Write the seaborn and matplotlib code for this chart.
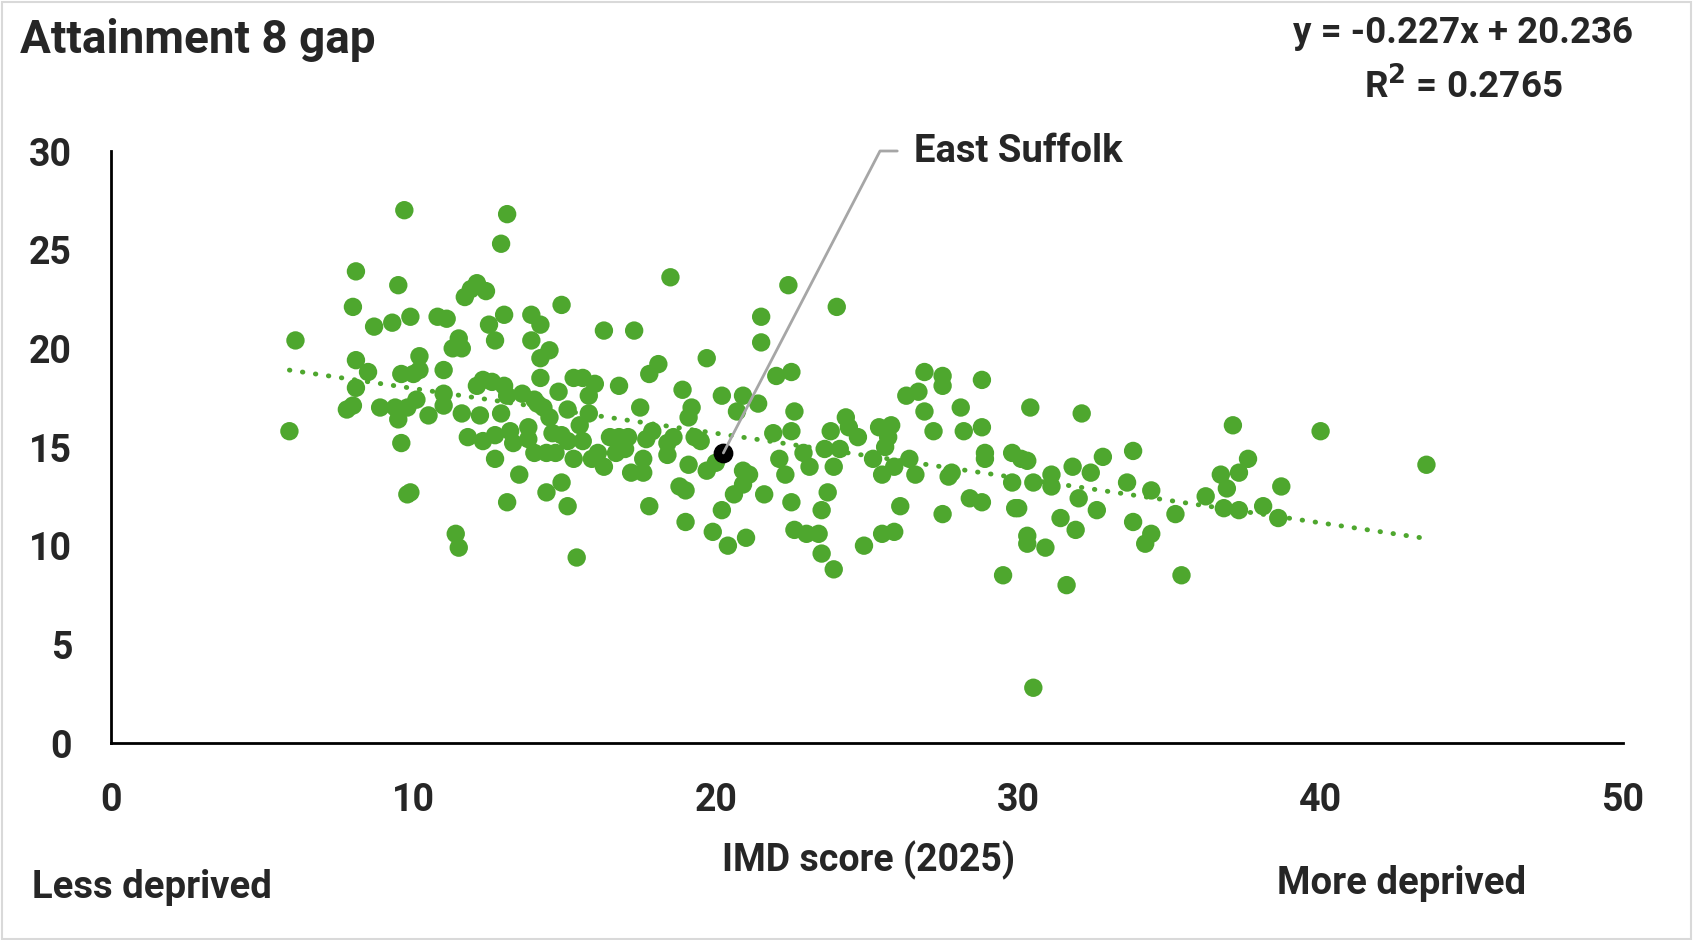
import numpy as np
import pandas as pd
import matplotlib.pyplot as plt
import seaborn as sns
from matplotlib.patches import Rectangle

# IMD score (2025) and Attainment 8 gap
imd = [5.9, 6.1, 7.8, 8.0, 8.0, 8.1, 8.1, 8.1, 8.5, 8.7, 8.9, 9.3, 9.4, 9.5, 9.5, 9.6,
       9.6, 9.7, 9.8, 9.9, 9.9, 9.8, 10.0, 10.1, 10.2, 10.2, 10.5, 10.8, 11.1, 11.0,
       11.0, 11.0, 11.3, 11.4, 11.5, 11.5, 11.6, 11.6, 11.7, 11.8, 11.9, 12.1, 12.4,
       12.1, 12.2, 12.3, 12.3, 12.5, 12.7, 12.6, 12.7, 12.7, 12.9, 12.9, 13.0, 13.0,
       13.1, 13.1, 13.1, 13.2, 13.3, 13.5, 13.6, 13.8, 13.8, 13.9, 13.9, 14.0, 14.0,
       14.2, 14.2, 14.2, 14.1, 14.3, 14.4, 14.4, 14.5, 14.5, 14.6, 14.7, 14.8, 14.9,
       14.9, 14.9, 15.1, 15.1, 15.1, 15.3, 15.3, 15.4, 15.5, 15.6, 15.6, 15.8, 15.8,
       15.9, 16.0, 16.1, 16.3, 16.3, 16.5, 16.7, 16.8, 16.8, 17.0, 17.1, 17.2, 17.3,
       17.5, 17.6, 17.6, 17.7, 17.8, 17.8, 17.9, 18.1, 18.4, 18.5, 18.4, 18.6, 18.8,
       18.9, 19.0, 19.0, 19.1, 19.1, 19.2, 19.3, 19.5, 19.7, 19.7, 19.9, 20.0, 20.2,
       20.2, 20.4, 20.6, 20.7, 20.9, 20.9, 20.9, 21.0, 21.1, 21.4, 21.5, 21.5, 21.6,
       21.9, 22.0, 22.1, 22.3, 22.4, 22.5, 22.5, 22.6, 22.5, 22.6, 22.9, 23.0, 23.1,
       23.4, 23.5, 23.5, 23.6, 23.7, 23.8, 23.9, 23.9, 24.0, 24.1, 24.3, 24.4, 24.7,
       24.9, 25.2, 25.4, 25.5, 25.5, 25.6, 25.7, 25.8, 25.9, 25.9, 26.1, 26.3, 26.4,
       26.6, 26.7, 26.9, 26.9, 27.2, 27.5, 27.5, 27.5, 27.7, 27.8, 28.1, 28.2, 28.4,
       28.8, 28.8, 28.8, 28.9, 28.9, 29.5, 29.8, 29.8, 29.9, 30.0, 30.1, 30.3, 30.3,
       30.4, 30.3, 30.5, 30.5, 30.9, 31.1, 31.1, 31.4, 31.6, 31.8, 31.9, 32.0, 32.1,
       32.4, 32.6, 32.8, 33.6, 33.8, 33.8, 34.2, 34.4, 34.4, 35.2, 35.4, 36.2, 36.7,
       36.8, 36.9, 37.1, 37.3, 37.3, 37.6, 38.1, 38.6, 38.7, 40.0, 43.5]
gap = [15.8, 20.4, 16.9, 17.1, 22.1, 23.9, 18.0, 19.4, 18.8, 21.1, 17.0, 21.3, 17.0, 23.2,
       16.4, 18.7, 15.2, 27.0, 12.6, 12.7, 21.6, 17.0, 18.7, 17.4, 18.9, 19.6, 16.6,
       21.6, 21.5, 18.9, 17.7, 17.1, 20.0, 10.6, 9.9, 20.5, 16.7, 20.0, 22.6, 15.5,
       23.0, 23.3, 22.9, 18.1, 16.6, 18.4, 15.3, 21.2, 20.4, 18.3, 14.4, 15.6, 16.7,
       25.3, 18.1, 21.7, 26.8, 12.2, 17.6, 15.8, 15.2, 13.6, 17.7, 16.0, 15.4, 21.7,
       20.4, 17.4, 14.7, 21.2, 19.5, 18.5, 17.2, 17.0, 12.7, 14.7, 16.5, 19.9, 15.7,
       14.7, 17.8, 15.6, 22.2, 13.2, 12.0, 16.9, 15.3, 18.5, 14.4, 9.4, 16.1, 18.5,
       15.3, 17.6, 16.7, 14.4, 18.2, 14.7, 20.9, 14.0, 15.5, 14.7, 18.1, 15.5, 14.9,
       15.5, 13.7, 20.9, 17.0, 13.7, 14.4, 15.4, 18.7, 12.0, 15.8, 19.2, 14.6, 23.6,
       15.2, 15.5, 13.0, 17.9, 11.2, 12.8, 14.1, 16.5, 17.0, 15.5, 15.3, 19.5, 13.8,
       10.7, 14.2, 17.6, 11.8, 10.0, 12.6, 16.8, 13.8, 13.1, 17.6, 10.4, 13.6, 17.2,
       21.6, 20.3, 12.6, 15.7, 18.6, 14.4, 13.6, 23.2, 18.8, 12.2, 16.8, 15.8, 10.8,
       14.7, 10.6, 14.0, 10.6, 9.6, 11.8, 14.9, 12.7, 15.8, 14.0, 8.8, 22.1, 14.9,
       16.5, 16.0, 15.5, 10.0, 14.4, 16.0, 13.6, 10.6, 15.0, 15.5, 16.1, 10.7, 14.0,
       12.0, 17.6, 14.4, 13.6, 17.8, 18.8, 16.8, 15.8, 18.1, 18.6, 11.6, 13.5, 13.7,
       17.0, 15.8, 12.4, 16.0, 18.4, 12.2, 14.7, 14.4, 8.5, 14.7, 13.2, 11.9, 11.9,
       14.4, 10.5, 10.1, 17.0, 14.3, 13.2, 2.8, 9.9, 13.6, 13.0, 11.4, 8.0, 14.0,
       10.8, 12.4, 16.7, 13.7, 11.8, 14.5, 13.2, 14.8, 11.2, 10.1, 10.6, 12.8, 11.6,
       8.5, 12.5, 13.6, 11.9, 12.9, 16.1, 13.7, 11.8, 14.4, 12.0, 11.4, 13.0, 15.8,
       14.1]

highlight_name = "East Suffolk"
highlight_imd = 20.25
highlight_gap = 14.7

slope = -0.227
intercept = 20.236
r_squared = 0.2765

x_ticks = [0, 10, 20, 30, 40, 50]
y_ticks = [0, 5, 10, 15, 20, 25, 30]

green = "#4EA72E"

sns.set_style("white")
plt.rcParams["font.family"] = ["Roboto", "DejaVu Sans"]
plt.rcParams["font.weight"] = "bold"

W, H = 1693, 940
fig = plt.figure(figsize=(W / 100, H / 100), dpi=100)
ax = fig.add_axes([111 / W, 1 - 743 / H, 1512 / W, 592 / H])

df = pd.DataFrame({"imd": imd, "gap": gap})
sns.scatterplot(data=df, x="imd", y="gap", color=green, s=175,
                edgecolor="none", ax=ax, zorder=3, legend=False)

# linear trendline from the stated equation
xs = np.array([min(imd), max(imd)])
ax.plot(xs, intercept + slope * xs, color=green, lw=3.5,
        linestyle=(0, (0.1, 2.6)), dash_capstyle="round", zorder=4)

# highlighted authority with leader line
ax.scatter([highlight_imd], [highlight_gap], s=175, color="black", zorder=5)
elbow_x, label_x = 25.43, 26.0
ax.plot([highlight_imd, elbow_x, label_x], [highlight_gap, 30, 30],
        color="#A6A6A6", lw=2, clip_on=False, zorder=6)
ax.text(26.55, 30, highlight_name, fontsize=27.5, fontweight="bold",
        va="center", ha="left")

ax.set_xlim(0, 50)
ax.set_ylim(0, 30)
ax.set_xticks(x_ticks)
ax.set_yticks(y_ticks)
ax.tick_params(axis="x", length=0, pad=28, labelsize=27)
ax.tick_params(axis="y", length=0, pad=28, labelsize=27)
ax.set_xlabel("")
ax.set_ylabel("")
sns.despine(ax=ax)
for side in ["left", "bottom"]:
    ax.spines[side].set_color("black")
    ax.spines[side].set_linewidth(2)

fig.text(20 / W, 1 - 40 / H, "Attainment 8 gap", fontsize=33,
         fontweight="bold", va="center", ha="left")
fig.text(1463 / W, 1 - 33 / H, f"y = {slope}x + {intercept}", fontsize=26.5,
         fontweight="bold", va="center", ha="center")
fig.text(1463 / W, 1 - 87 / H, f"R$^{{2}}$ = {r_squared}", fontsize=26.5,
         fontweight="bold", va="center", ha="center")
fig.text(868 / W, 1 - 860 / H, "IMD score (2025)", fontsize=27,
         fontweight="bold", va="center", ha="center")
fig.text(32 / W, 1 - 888 / H, "Less deprived", fontsize=27.5,
         fontweight="bold", va="center", ha="left")
fig.text(1277 / W, 1 - 883 / H, "More deprived", fontsize=27.5,
         fontweight="bold", va="center", ha="left")

fig.patches.append(Rectangle((0.001, 0.001), 0.998, 0.997, transform=fig.transFigure,
                             fill=False, edgecolor="#D9D9D9", lw=1.5))

fig.savefig("out.png", dpi=100)
